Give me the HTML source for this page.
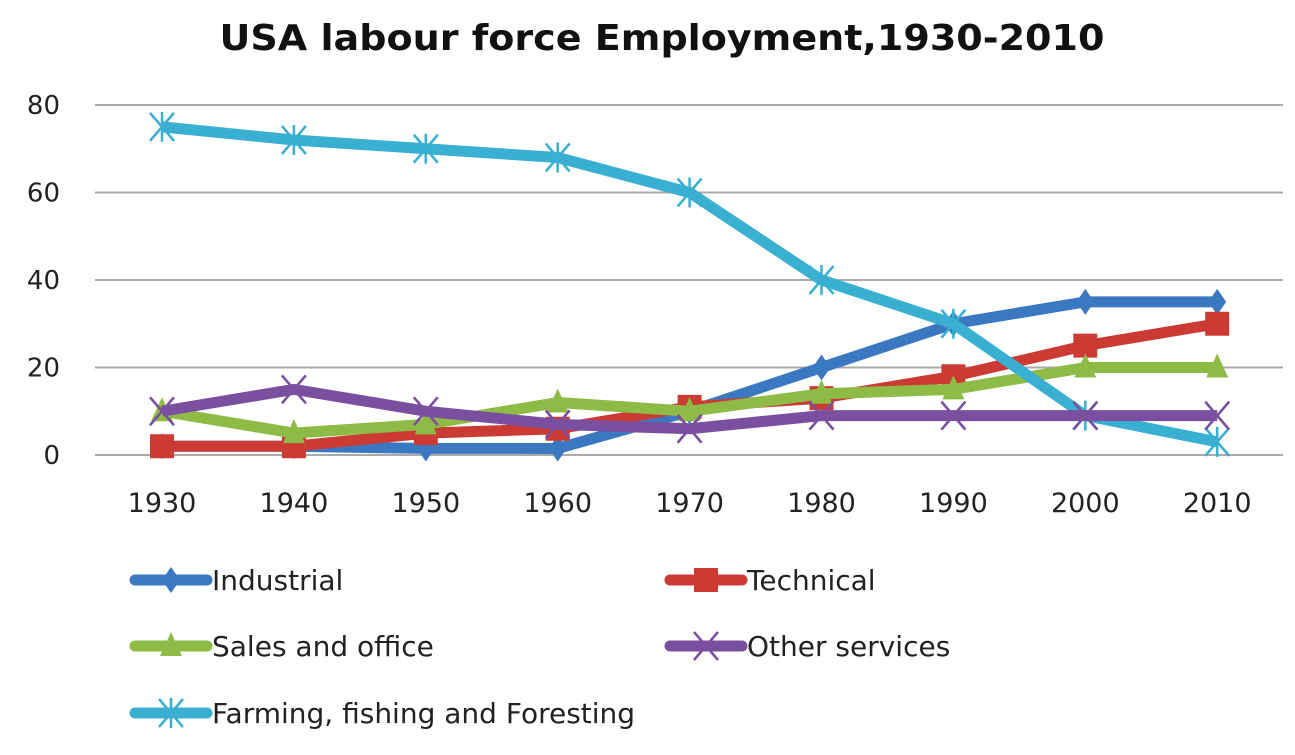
<!DOCTYPE html>
<html><head><meta charset="utf-8"><style>
body{margin:0;background:#fff;}
svg{display:block;font-family:"DejaVu Sans","Liberation Sans",sans-serif;}
</style></head><body>
<svg id="c" width="1295" height="755">
<text x="662" y="50" text-anchor="middle" font-size="36" font-weight="bold" fill="#111" textLength="885" lengthAdjust="spacingAndGlyphs">USA labour force Employment,1930-2010</text>
<g id="grid"></g><g id="series"></g><g id="legend"></g>
</svg>
<script>
const years=['1930','1940','1950','1960','1970','1980','1990','2000','2010'];
const yTicks=[0,20,40,60,80];
const industrial=[2,2,1.5,1.5,10,20,30,35,35];
const technical=[2,2,5,6,11,13,18,25,30];
const sales=[10,5,7,12,10,14,15,20,20];
const other=[10,15,10,7,6,9,9,9,9];
const farming=[75,72,70,68,60,40,30,9,3];
const names=['Industrial','Technical','Sales and office','Other services','Farming, fishing and Foresting'];
const NS='http://www.w3.org/2000/svg';
function mk(t,a,p){const e=document.createElementNS(NS,t);for(const k in a)e.setAttribute(k,a[k]);p.appendChild(e);return e;}
const X=i=>162+i*131.9, Y=v=>455-v*4.375;
const grid=document.getElementById('grid');
yTicks.forEach(v=>{
 const l=mk('line',{x1:95,x2:1283,y1:Y(v),y2:Y(v),stroke:'#aaa','stroke-width':2},grid);
 
 
 const t=mk('text',{x:60,y:Y(v)+9,'text-anchor':'end','font-size':26,fill:'#222'},grid);t.textContent=v;
 
 
});
years.forEach((y,i)=>{
 const t=mk('text',{x:X(i),y:512,'text-anchor':'middle','font-size':27,fill:'#222'},grid);t.textContent=y;
 
 
});
const data=[industrial,technical,sales,other,farming];
const colors=['#3a78c2','#cc3b33','#8dbb45','#7b4fa0','#39b0d2'];
const shapes=['diamond','square','triangle','x','star'];
function marker(g,s,x,y,c){
 if(s==='diamond')mk('path',{d:`M${x} ${y-13}L${x+9} ${y}L${x} ${y+13}L${x-9} ${y}Z`,fill:c},g);
 else if(s==='square')mk('rect',{x:x-12,y:y-12,width:24,height:24,fill:c},g);
 else if(s==='triangle')mk('path',{d:`M${x} ${y-14}L${x+11} ${y+10}L${x-11} ${y+10}Z`,fill:c},g);
 else{mk('path',{d:`M${x-12} ${y-14}L${x+12} ${y+14}M${x+12} ${y-14}L${x-12} ${y+14}`+(s==='star'?`M${x} ${y-15}L${x} ${y+15}`:''),stroke:c,'stroke-width':2.5,fill:'none'},g);}
}
const sg=document.getElementById('series');
const order=[0,1,2,4,3];
order.forEach(k=>{
 const g=mk('g',{},sg);
 
 
 mk('polyline',{points:data[k].map((v,i)=>X(i)+','+Y(v)).join(' '),fill:'none',stroke:colors[k],'stroke-width':11,'stroke-linejoin':'round'},g);
 data[k].forEach((v,i)=>marker(g,shapes[k],X(i),Y(v),colors[k]));
});
const lg=document.getElementById('legend');
const lp=[[135,580],[670,580],[135,646],[670,646],[135,713]];
names.forEach((n,k)=>{
 const g=mk('g',{},lg);
 
 
 const [x,y]=lp[k];
 mk('line',{x1:x,x2:x+72,y1:y,y2:y,stroke:colors[k],'stroke-width':11,'stroke-linecap':'round'},g);
 marker(g,shapes[k],x+36,y,colors[k]);
 const t=mk('text',{x:x+77,y:y+10,'font-size':28,fill:'#222'},g);t.textContent=n;
});
</script>
</body></html>
